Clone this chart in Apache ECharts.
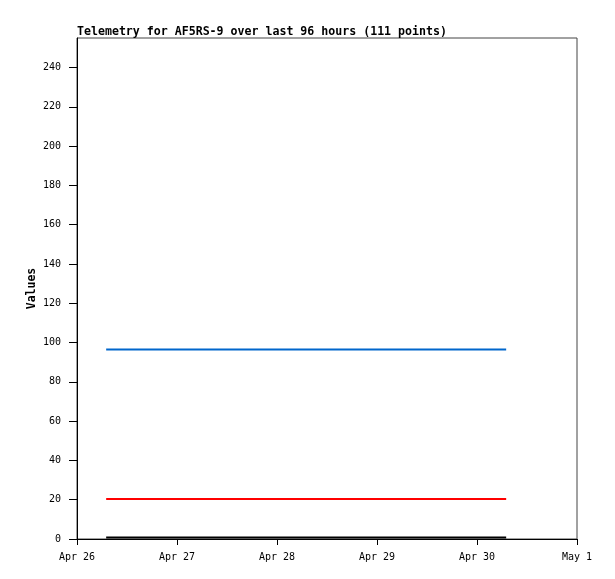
<!DOCTYPE html>
<html>
<head>
<meta charset="utf-8">
<script src="https://cdn.jsdelivr.net/npm/echarts@6/dist/echarts.min.js"></script>
<style>
html,body{margin:0;padding:0;background:#fff;}
#chart{width:615px;height:579px;}
</style>
</head>
<body>
<div id="chart"></div>
<script>
// Sample times (UTC) and series values
const times = [
  '2024-04-26T07:00:00Z','2024-04-26T15:00:00Z','2024-04-26T23:00:00Z',
  '2024-04-27T07:00:00Z','2024-04-27T15:00:00Z','2024-04-27T23:00:00Z',
  '2024-04-28T07:00:00Z','2024-04-28T15:00:00Z','2024-04-28T23:00:00Z',
  '2024-04-29T07:00:00Z','2024-04-29T15:00:00Z','2024-04-29T23:00:00Z',
  '2024-04-30T07:00:00Z'
];
const blueValues  = [96.5,96.5,96.5,96.5,96.5,96.5,96.5,96.5,96.5,96.5,96.5,96.5,96.5];
const redValues   = [20.4,20.4,20.4,20.4,20.4,20.4,20.4,20.4,20.4,20.4,20.4,20.4,20.4];
const blackValues = [0.7,0.7,0.7,0.7,0.7,0.7,0.7,0.7,0.7,0.7,0.7,0.7,0.7];
const yTicks = [0,20,40,60,80,100,120,140,160,180,200,220,240];
const xStart = '2024-04-26T00:00:00Z';
const xEnd = '2024-05-01T00:00:00Z';
const monthNames = ['Jan','Feb','Mar','Apr','May','Jun','Jul','Aug','Sep','Oct','Nov','Dec'];

const DAY = 86400000;
const pairs = vals => times.map((t, i) => [Date.parse(t), vals[i]]);
const font = 'DejaVu Sans Mono';

const chart = echarts.init(document.getElementById('chart'), null, {renderer: 'canvas'});
chart.setOption({
  animation: false,
  backgroundColor: '#fff',
  title: {
    text: 'Telemetry for AF5RS-9 over last 96 hours (111 points)',
    left: 77, top: 26, padding: 0,
    textStyle: {fontFamily: font, fontSize: 11.6, fontWeight: 'bold', color: '#000'}
  },
  grid: {left: 77, right: 38, top: 38, bottom: 40, show: true, borderColor: '#444', borderWidth: 1, backgroundColor: '#fff'},
  xAxis: {
    type: 'value',
    min: Date.parse(xStart), max: Date.parse(xEnd), interval: DAY,
    axisLine: {show: true, onZero: false, lineStyle: {color: '#000', width: 1}},
    axisTick: {show: true, inside: false, length: 6, lineStyle: {color: '#000'}},
    splitLine: {show: false},
    axisLabel: {
      margin: 13, color: '#000', fontFamily: font, fontSize: 10,
      formatter: v => { const d = new Date(v); return monthNames[d.getUTCMonth()] + ' ' + d.getUTCDate(); }
    }
  },
  yAxis: {
    type: 'value', min: 0, max: 255,
    name: 'Values', nameLocation: 'middle', nameGap: 39, nameMoveOverlap: false,
    nameTextStyle: {fontFamily: font, fontSize: 11.5, fontWeight: 'bold', color: '#000'},
    axisLine: {show: true, lineStyle: {color: '#000', width: 1}},
    axisTick: {show: true, inside: false, length: 8, customValues: yTicks, lineStyle: {color: '#000'}},
    splitLine: {show: false},
    axisLabel: {margin: 16, color: '#000', fontFamily: font, fontSize: 10, customValues: yTicks}
  },
  series: [
    {type: 'line', data: pairs(blueValues), showSymbol: false, lineStyle: {color: '#0066cc', width: 2}, itemStyle: {color: '#0066cc'}},
    {type: 'line', data: pairs(redValues), showSymbol: false, lineStyle: {color: '#ff0000', width: 2}, itemStyle: {color: '#ff0000'}},
    {type: 'line', data: pairs(blackValues), showSymbol: false, lineStyle: {color: '#000000', width: 2}, itemStyle: {color: '#000'}}
  ]
});
</script>
</body>
</html>
